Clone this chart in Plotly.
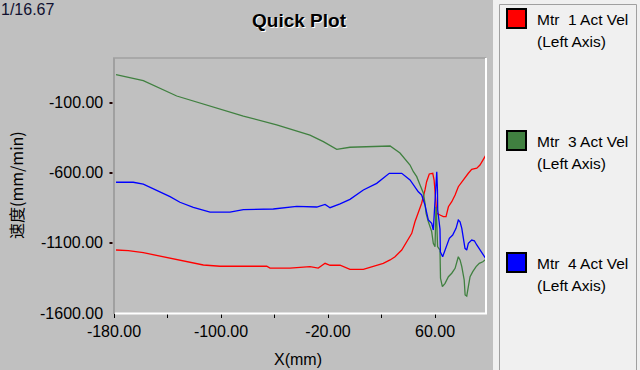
import plotly.graph_objects as go

# ---- data ----
mtr1_x = [-178.5, -169.3, -158.1, -145.6, -135.7, -125.6, -113.2, -100.7, -65.8, -63.4, -48.4, -33.5, -27.3, -22.2,
          -18.5, -11.0, -3.6, 6.4, 13.9, 21.3, 26.4, 30.1, 35.1, 38.8, 42.6, 45.0, 47.5, 50.0, 52.5, 53.7, 55.7, 58.3,
          59.3, 60.2, 61.3, 63.7, 66.2, 68.2, 70.0, 72.5, 75.0, 77.4, 80.0, 82.4, 84.9, 87.4, 91.2, 93.6, 95.7, 97.4, 98.1]
mtr1_y = [-1150, -1155, -1169, -1193, -1214, -1236, -1257, -1266, -1266, -1279, -1279, -1269, -1279, -1245,
          -1259, -1259, -1288, -1288, -1269, -1245, -1221, -1198, -1150, -1091, -1031, -948, -876, -816, -721, -662,
          -607, -602, -650, -769, -888, -900, -912, -912, -841, -805, -757, -698, -662, -638, -602, -574, -566, -543,
          -512, -479, -471]

mtr3_x = [-178.5, -158.1, -133.1, -108.2, -83.3, -58.4, -33.5, -23.5, -13.5, -3.6, 6.4, 26.4, 33.8, 41.3, 43.8,
          46.3, 48.8, 51.3, 52.5, 53.3, 55.0, 57.5, 58.7, 60.0, 60.7, 61.1, 61.9, 63.7, 64.1, 65.5, 67.5, 70.0, 72.5,
          75.0, 77.4, 78.7, 80.0, 81.8, 82.5, 83.7, 84.9, 86.2, 88.2, 90.7, 93.1, 95.7, 98.1]
mtr3_y = [102, 59, -50, -121, -193, -257, -329, -376, -431, -416, -412, -407, -457, -543, -591,
          -626, -686, -745, -816, -888, -948, -1019, -1102, -1126, -841, -900, -1126, -1150, -1352, -1412, -1388,
          -1341, -1316, -1281, -1198, -1221, -1269, -1364, -1471, -1479, -1412, -1341, -1305, -1269, -1245, -1234, -1216]

mtr4_x = [-178.5, -165.6, -158.1, -145.6, -138.1, -130.7, -120.7, -108.2, -93.3, -83.3, -60.9, -43.4, -28.4, -22.2,
          -18.5, -11.0, -3.6, 6.4, 16.4, 25.8, 35.1, 41.3, 43.8, 47.5, 50.0, 52.5, 55.0, 57.5, 58.7, 59.3, 61.3, 61.8,
          62.0, 63.7, 64.0, 65.7, 67.5, 68.7, 70.7, 73.2, 75.7, 77.4, 78.7, 80.0, 81.2, 82.4, 83.7, 84.9, 87.4, 89.4,
          91.2, 93.6, 95.7, 98.1]
mtr4_y = [-666, -666, -679, -734, -769, -809, -845, -879, -879, -862, -857, -838, -843, -824,
          -848, -821, -788, -721, -674, -602, -602, -650, -686, -734, -757, -829, -936, -959, -1007, -888, -591, -721,
          -864, -1000, -1164, -1198, -1150, -1114, -1066, -1043, -995, -936, -948, -995, -1079, -1138, -1150, -1102,
          -1079, -1084, -1114, -1150, -1186, -1214]

series_names = ["Mtr\u00a0 1 Act Vel", "Mtr\u00a0 3 Act Vel", "Mtr\u00a0 4 Act Vel"]
series_colors = ["#ff0000", "#408040", "#0000ff"]

x_tickvals = [-180, -140, -100, -60, -20, 20, 60]
x_ticktext = ["-180.00", "", "-100.00", "", "-20.00", "", "60.00"]
y_tickvals = [-1600, -1100, -600, -100]
y_ticktext = ["-1600.00", "-1100.00", "-600.00", "-100.00"]

X_RANGE = [-180, 98.1]
Y_RANGE = [-1600, 221.4]

# ---- layout geometry (pixels) ----
W, H = 640, 370
PL, PR, PT, PB = 114, 486, 58, 313


def fx(px):
    return (px - PL) / (PR - PL)


def fy(py):
    return (PB - py) / (PB - PT)


def fy_val(v):
    # paper fraction of a y-axis value (for decorations outside the plot area)
    return (v - Y_RANGE[0]) / (Y_RANGE[1] - Y_RANGE[0])


FONT = "Liberation Sans, Arial, sans-serif"

fig = go.Figure()
for xs, ys, name, col in zip([mtr1_x, mtr3_x, mtr4_x], [mtr1_y, mtr3_y, mtr4_y], series_names, series_colors):
    fig.add_trace(go.Scatter(x=xs, y=ys, mode="lines", name=name,
                             line=dict(color=col, width=1.3), showlegend=False))

shapes = []
annotations = []

# plot frame (sunken look)
shapes.append(dict(type="line", xref="paper", yref="paper", x0=fx(114), x1=fx(114), y0=fy(58), y1=fy(314),
                   line=dict(color="#a0a0a0", width=2)))
shapes.append(dict(type="line", xref="paper", yref="paper", x0=fx(113), x1=fx(486), y0=fy(58), y1=fy(58),
                   line=dict(color="#a0a0a0", width=1.5)))
shapes.append(dict(type="line", xref="paper", yref="paper", x0=fx(486), x1=fx(486), y0=fy(58), y1=fy(314),
                   line=dict(color="#ffffff", width=2)))
shapes.append(dict(type="line", xref="paper", yref="paper", x0=fx(115), x1=fx(487), y0=fy(313.5), y1=fy(313.5),
                   line=dict(color="#ffffff", width=2)))

# y-axis tick marks (short dark dashes just left of the frame)
for v in y_tickvals[1:]:
    shapes.append(dict(type="line", xref="paper", yref="paper", x0=fx(109.5), x1=fx(112.5),
                       y0=fy_val(v), y1=fy_val(v), line=dict(color="#200000", width=2)))

# legend panel
shapes.append(dict(type="rect", xref="paper", yref="paper", x0=fx(493), x1=fx(645), y0=fy(-5), y1=fy(375),
                   fillcolor="#f0f0f0", line=dict(width=0)))
shapes.append(dict(type="rect", xref="paper", yref="paper", x0=fx(499.5), x1=fx(636.5), y0=fy(4.5), y1=fy(380),
                   fillcolor="rgba(0,0,0,0)", line=dict(color="#a0a0a0", width=1)))

legend_tops = [8, 130, 252]
for top, name, col in zip(legend_tops, series_names, series_colors):
    shapes.append(dict(type="rect", xref="paper", yref="paper", x0=fx(507), x1=fx(526), y0=fy(top + 1),
                       y1=fy(top + 20), fillcolor=col, line=dict(color="#000000", width=2)))
    annotations.append(dict(text=name, xref="paper", yref="paper", x=fx(535), y=fy(top + 11.5),
                            xanchor="left", yanchor="middle", showarrow=False,
                            font=dict(family=FONT, size=15.5, color="#000000")))
    annotations.append(dict(text="(Left Axis)", xref="paper", yref="paper", x=fx(535), y=fy(top + 33),
                            xanchor="left", yanchor="middle", showarrow=False,
                            font=dict(family=FONT, size=15.5, color="#000000")))

# title with white shadow
annotations.append(dict(text="<b>Quick Plot</b>", xref="paper", yref="paper", x=fx(300), y=fy(21),
                        xanchor="center", yanchor="middle", showarrow=False,
                        font=dict(family=FONT, size=19, color="#ffffff")))
annotations.append(dict(text="<b>Quick Plot</b>", xref="paper", yref="paper", x=fx(299), y=fy(20),
                        xanchor="center", yanchor="middle", showarrow=False,
                        font=dict(family=FONT, size=19, color="#000000")))

# corner label
annotations.append(dict(text="1/16.67", xref="paper", yref="paper", x=fx(-1), y=fy(9.5),
                        xanchor="left", yanchor="middle", showarrow=False,
                        font=dict(family=FONT, size=16, color="#101030")))

# y tick labels as right-aligned texts
for v, t in zip(y_tickvals, y_ticktext):
    annotations.append(dict(text=t, xref="paper", yref="paper", x=fx(104.5), y=fy_val(v),
                            xanchor="right", yanchor="middle", showarrow=False,
                            font=dict(family=FONT, size=16, color="#000000")))

# axis titles
annotations.append(dict(text="速度(mm/min)", xref="paper", yref="paper", x=fx(16), y=fy(185),
                        xanchor="center", yanchor="middle", textangle=-90, showarrow=False,
                        font=dict(family="Noto Sans CJK SC, " + FONT, size=16, color="#000000")))
annotations.append(dict(text="X(mm)", xref="paper", yref="paper", x=fx(298), y=fy(359),
                        xanchor="center", yanchor="middle", showarrow=False,
                        font=dict(family=FONT, size=16, color="#000000")))

fig.update_layout(
    width=W, height=H,
    margin=dict(l=PL, r=W - PR, t=PT, b=H - PB, pad=0),
    paper_bgcolor="#c0c0c0", plot_bgcolor="#c0c0c0",
    showlegend=False,
    shapes=shapes, annotations=annotations,
    font=dict(family=FONT, size=16, color="#000000"),
)
fig.update_xaxes(range=X_RANGE, tickmode="array", tickvals=x_tickvals, ticktext=x_ticktext,
                 ticks="outside", ticklen=4, tickwidth=1, tickcolor="#000000",
                 showgrid=False, zeroline=False, showline=False,
                 tickfont=dict(family=FONT, size=16, color="#000000"))
fig.update_yaxes(range=Y_RANGE, tickmode="array", tickvals=y_tickvals, showticklabels=False,
                 ticks="", showgrid=False, zeroline=False, showline=False)

fig.write_html("out.html", config={"displayModeBar": False},
               post_script="document.body.style.margin='0';document.body.style.background='#c0c0c0';")
